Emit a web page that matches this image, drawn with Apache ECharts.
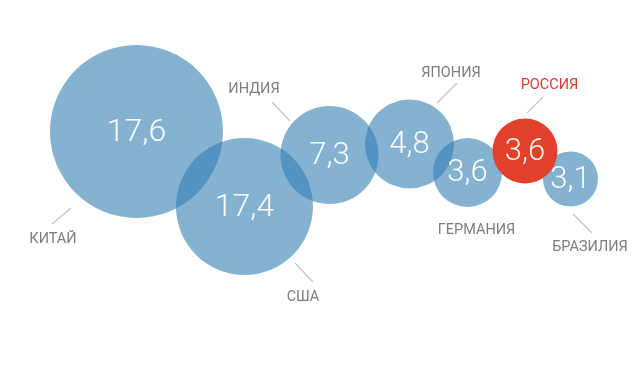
<!DOCTYPE html>
<html>
<head>
<meta charset="utf-8">
<script src="https://cdn.jsdelivr.net/npm/echarts@6/dist/echarts.min.js"></script>
<style>
html,body{margin:0;padding:0;background:#fff;}
#chart{width:640px;height:370px;}
</style>
</head>
<body>
<div id="chart"></div>
<script>
// ---- data ----
const countries = ['КИТАЙ', 'США', 'ИНДИЯ', 'ЯПОНИЯ', 'ГЕРМАНИЯ', 'РОССИЯ', 'БРАЗИЛИЯ'];
const values = [17.6, 17.4, 7.3, 4.8, 3.6, 3.6, 3.1];
const highlighted = [false, false, false, false, false, true, false];

// ---- layout (bubble chart positions in a 640 x 370 plane) ----
const bubbleX = [136.5, 244.5, 329.5, 409.5, 467.5, 525, 570.5];
const bubbleY = [131.5, 206.5, 155, 144, 172.5, 151, 179];
const bubbleR = [86.5, 68.5, 49, 44.5, 34.5, 32.5, 27.5];
// leader line (near dx,dy, far dx,dy) and label offset, relative to bubble centre
const leaderLines = [
  [-65.5, 76.5, -84.5, 92.5],
  [50.5, 56.5, 68.5, 75.5],
  [-39.5, -34, -57.5, -53],
  [27.5, -41, 47.5, -61],
  null,
  [2, -38, 18, -54],
  [2.5, 35, 21.5, 54]
];
const labelOffsets = [
  [-83.5, 107.5], [58.5, 90.5], [-75.5, -66], [41.5, -71], [9, 57.5], [24.5, -66], [19.5, 68]
];

const BLUE = 'rgba(51,126,179,0.6)';
const RED = '#e3412b';
const GRAY_TEXT = '#7d7d7d';
const RED_TEXT = '#dd3a36';

const data = countries.map((c, i) => [bubbleX[i], bubbleY[i], bubbleR[i], values[i], i]);

const chart = echarts.init(document.getElementById('chart'), null, {renderer: 'canvas'});

chart.setOption({
  animation: false,
  backgroundColor: '#ffffff',
  grid: {left: 0, right: 0, top: 0, bottom: 0},
  xAxis: {type: 'value', min: 0, max: 640, show: false},
  yAxis: {type: 'value', min: 0, max: 370, inverse: true, show: false},
  series: [{
    type: 'custom',
    coordinateSystem: 'cartesian2d',
    data: data,
    encode: {x: 0, y: 1},
    renderItem: function (params, api) {
      const i = params.dataIndex;
      const c = api.coord([api.value(0), api.value(1)]);
      const kx = api.size([1, 0])[0];
      const ky = api.size([0, 1])[1];
      const r = api.value(2) * kx;
      const hi = highlighted[i];
      const children = [];
      children.push({
        type: 'circle',
        shape: {cx: c[0], cy: c[1], r: r},
        style: {fill: hi ? RED : BLUE},
        z2: hi ? 3 : 0
      });
      children.push({
        type: 'text',
        z2: 6,
        style: {
          text: String(api.value(3)).replace('.', ','),
          x: c[0], y: c[1] + 1,
          align: 'center', verticalAlign: 'middle',
          fill: 'rgba(255,255,255,0.95)',
          fontFamily: 'Roboto', fontWeight: 300,
          fontSize: i < 2 ? 32 : 31
        }
      });
      const ll = leaderLines[i];
      if (ll) {
        children.push({
          type: 'line',
          z2: 1,
          shape: {
            x1: c[0] + ll[0] * kx,
            y1: c[1] + ll[1] * ky,
            x2: c[0] + ll[2] * kx,
            y2: c[1] + ll[3] * ky
          },
          style: {stroke: '#c6c6c6', lineWidth: 1.2}
        });
      }
      const lo = labelOffsets[i];
      children.push({
        type: 'text',
        z2: 6,
        style: {
          text: countries[i],
          x: c[0] + lo[0] * kx,
          y: c[1] + lo[1] * ky,
          align: 'center', verticalAlign: 'middle',
          fill: hi ? RED_TEXT : GRAY_TEXT,
          fontFamily: 'Roboto', fontWeight: 400, fontSize: 14.5
        }
      });
      return {type: 'group', children: children};
    }
  }]
});
</script>
</body>
</html>
